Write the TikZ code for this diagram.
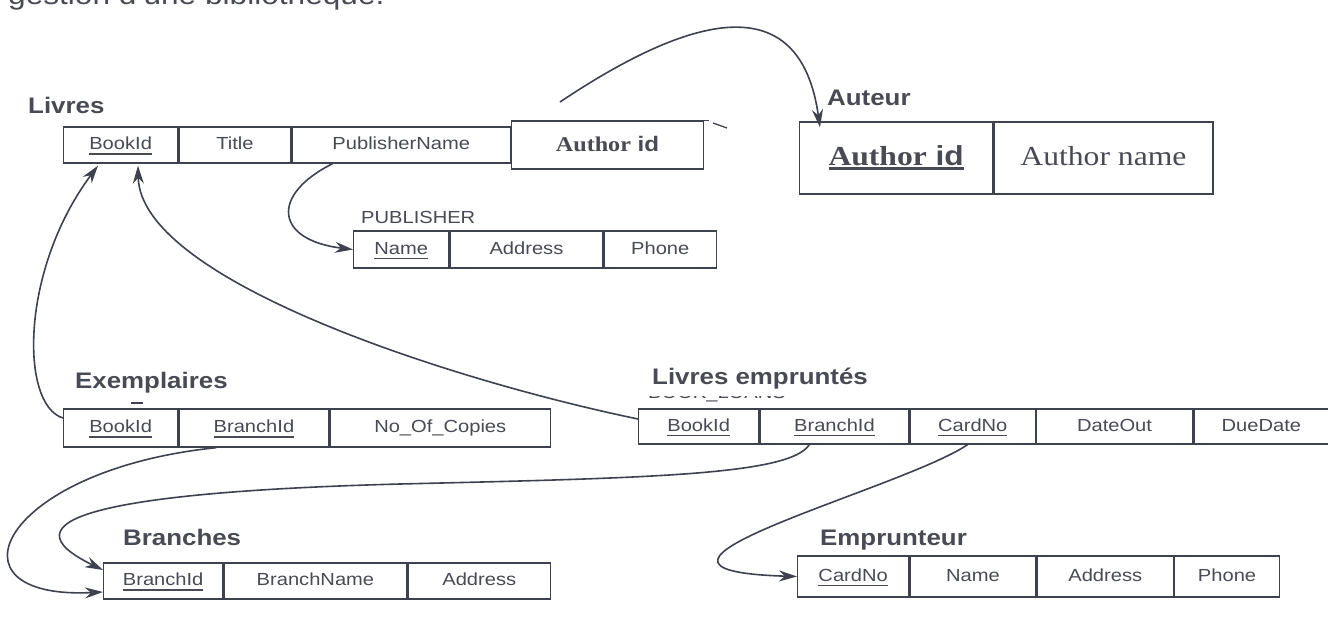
\documentclass[tikz,border=0pt]{standalone}
\usepackage{fontspec}
\setmainfont{Liberation Sans}[FakeStretch=1.15]
\newfontfamily\tnr{Liberation Serif}[FakeStretch=1.15]
\usetikzlibrary{arrows.meta}
\definecolor{lc}{RGB}{62,66,78}
\definecolor{tc}{RGB}{72,74,84}
\newcommand\uln[1]{\setbox0\hbox{#1}\rlap{\usebox0}\rule[-5pt]{\wd0}{1.3pt}}
\newcommand\ulnb[1]{\setbox0\hbox{#1}\rlap{\usebox0}\rule[-5pt]{\wd0}{2.8pt}}
\begin{document}
\begin{tikzpicture}[x=1pt,y=-1pt,
  cell/.style={draw=lc,line width=1.3pt,inner sep=0pt,anchor=west,text=tc,
    font=\fontsize{17.5}{20}\selectfont,text height=14pt,text depth=5pt},
  ttl/.style={anchor=base west,inner sep=0pt,text=tc,font=\fontsize{22.5}{26}\selectfont\bfseries},
  link/.style={draw=lc,line width=1.6pt,-{Stealth[length=18pt,width=11pt]}},
  stroke/.style={draw=lc,line width=1.3pt}]
\useasboundingbox (0,0) rectangle (1328,626);

% cut-off heading
\node[anchor=base west,inner sep=0pt,text=tc,font=\fontsize{27.5}{30}\selectfont] (hdr) at (8,5) {gestion d'une bibliothèque.};

% titles
\node[ttl] (tLivres) at (28,113) {Livres};
\node[ttl] (tAut) at (827,105) {Auteur};
\node[ttl,font=\fontsize{17.5}{20}\selectfont] (tPub) at (361,223) {PUBLISHER};
\node[ttl] (tEx) at (75,388) {Exemplaires};
\node[ttl] (tLE) at (652,384) {Livres empruntés};
\node[ttl] (tBr) at (123,545) {Branches};
\node[ttl] (tEm) at (820,545) {Emprunteur};

% Livres
\node[cell,minimum width=114pt,minimum height=36pt] (lv1) at (63,145) {\uln{BookId}};
\node[cell,minimum width=112pt,minimum height=36pt] (lv2) at (lv1.east) {Title};
\node[cell,minimum width=218pt,minimum height=36pt] (lv3) at (lv2.east) {PublisherName};
\node[cell,minimum width=192pt,minimum height=48pt,font=\fontsize{21}{24}\selectfont,text height=17pt,text depth=4pt] (lv4) at (lv3.east) {{\tnr\bfseries Author} \textbf{id}\hspace{48pt}};
\draw[stroke] (lv4.north east) -- ++(5,0);
\draw[stroke] (713,123) -- (727,128);

% Auteur
\node[cell,minimum width=193pt,minimum height=72pt,font=\fontsize{27.5}{30}\selectfont,text height=20pt,text depth=6pt] (au1) at (799,158) {\ulnb{{\tnr\bfseries Author} \textbf{id}}\hspace{18pt}};
\node[cell,minimum width=219pt,minimum height=72pt,font={\tnr\fontsize{27.5}{30}\selectfont},text height=20pt,text depth=6pt] (au2) at (au1.east) {Author name};

% PUBLISHER
\node[cell,minimum width=95pt,minimum height=37pt] (pb1) at (353,249.5) {\uln{Name}};
\node[cell,minimum width=153pt,minimum height=37pt] (pb2) at (pb1.east) {Address};
\node[cell,minimum width=112pt,minimum height=37pt] (pb3) at (pb2.east) {Phone};

% Exemplaires
\draw[stroke] (131,403) -- (143,403);
\node[cell,minimum width=114pt,minimum height=38pt] (ex1) at (63,428) {\uln{BookId}};
\node[cell,minimum width=150pt,minimum height=38pt] (ex2) at (ex1.east) {\uln{BranchId}};
\node[cell,minimum width=220pt,minimum height=38pt] (ex3) at (ex2.east) {No\_Of\_Copies};

% Livres empruntes
\begin{scope}
\clip (640,396.5) rectangle (800,402);
\node[anchor=base west,inner sep=0pt,text=tc,font=\fontsize{17.5}{20}\selectfont] (bl) at (648,398.5) {BOOK\_LOANS};
\end{scope}
\node[cell,minimum width=120pt,minimum height=35pt] (le1) at (638,426.5) {\uln{BookId}};
\node[cell,minimum width=149pt,minimum height=35pt] (le2) at (le1.east) {\uln{BranchId}};
\node[cell,minimum width=125pt,minimum height=35pt] (le3) at (le2.east) {\uln{CardNo}};
\node[cell,minimum width=156pt,minimum height=35pt] (le4) at (le3.east) {DateOut};
\node[cell,minimum width=135pt,minimum height=35pt] (le5) at (le4.east) {DueDate};

% Branches
\node[cell,minimum width=119pt,minimum height=36pt] (br1) at (103,581) {\uln{BranchId}};
\node[cell,minimum width=183pt,minimum height=36pt] (br2) at (br1.east) {BranchName};
\node[cell,minimum width=142pt,minimum height=36pt] (br3) at (br2.east) {Address};

% Emprunteur
\node[cell,minimum width=111pt,minimum height=41pt] (em1) at (797,576.5) {\uln{CardNo}};
\node[cell,minimum width=126pt,minimum height=41pt] (em2) at (em1.east) {Name};
\node[cell,minimum width=136pt,minimum height=41pt] (em3) at (em2.east) {Address};
\node[cell,minimum width=105pt,minimum height=41pt] (em4) at (em3.east) {Phone};

% connectors
\coordinate (s1) at (560,102);
\draw[link] (s1) .. controls (690,15) and (800,-15) .. ([xshift=21pt,yshift=-6pt]au1.north west);
\draw[link] ([xshift=41pt]lv3.south west) .. controls (270,195) and (275,240) .. (pb1.west);
\draw[link] ([yshift=10pt]ex1.west) .. controls (20,405) and (20,270) .. ([xshift=35pt,yshift=-2pt]lv1.south west);
\draw[link] ([yshift=7.5pt]le1.west) .. controls (450,380) and (140,280) .. ([xshift=75pt,yshift=-2pt]lv1.south west);
\draw[link] ([xshift=38pt]ex2.south west) .. controls (0,470) and (-60,600) .. ([yshift=-11pt]br1.west);
\draw[link] ([xshift=50pt]le2.south west) .. controls (790,475) and (650,478) .. (400,484) .. controls (100,492) and (0,520) .. ([yshift=11pt]br1.west);
\draw[link] ([xshift=58pt]le3.south west) .. controls (900,490) and (580,570) .. (em1.west);
\end{tikzpicture}
\end{document}
